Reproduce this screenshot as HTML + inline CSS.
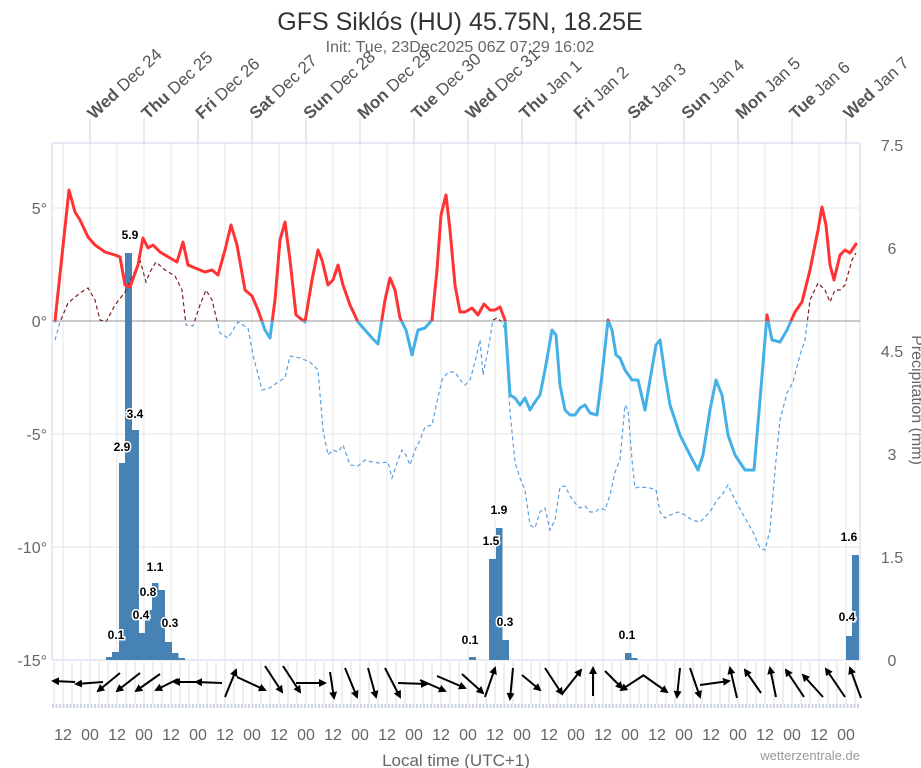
<!DOCTYPE html>
<html><head><meta charset="utf-8"><style>
html,body{margin:0;padding:0;background:#fff;}
svg{display:block;font-family:"Liberation Sans",sans-serif;}
.bl{font-size:12px;font-weight:bold;fill:#000;stroke:#fff;stroke-width:3px;paint-order:stroke;text-anchor:middle;}
.ax{font-size:16px;fill:#666;}
.top{font-size:17px;fill:#555;}
</style></head><body>
<svg width="921" height="768" viewBox="0 0 921 768">
<defs>
<clipPath id="above"><rect x="0" y="0" width="921" height="321"/></clipPath>
<clipPath id="below"><rect x="0" y="321" width="921" height="400"/></clipPath>
<marker id="ah" markerWidth="8" markerHeight="8" refX="6" refY="4" orient="auto" markerUnits="userSpaceOnUse"><path d="M0,0 L8,4 L0,8 z" fill="#000"/></marker>
<polyline id="dp" points="55,340 60,322 68,303 80,293 88,288 95,300 100,320 106,322 115,305 125,292 133,275 140,260 146,282 150,272 156,262 165,270 175,276 182,290 186,325 193,326 200,305 206,290 212,300 220,333 228,338 238,322 248,328 253,355 262,390 270,388 278,382 285,378 290,356 300,358 310,362 318,370 323,430 328,455 333,450 338,452 343,445 350,465 358,466 365,460 372,462 380,463 388,462 392,478 398,460 402,450 406,455 410,465 415,450 420,440 425,427 432,425 437,402 442,380 448,372 455,372 460,380 465,385 470,380 475,362 480,340 483,375 488,350 493,320 497,318 502,322 505,330 510,412 515,462 520,478 525,490 530,525 535,528 540,512 545,508 550,530 555,520 560,487 565,486 570,496 575,503 580,508 585,506 590,512 595,512 600,508 605,510 610,495 615,472 620,460 625,405 628,410 632,460 635,488 640,487 650,488 656,490 660,512 665,518 670,515 678,512 685,515 692,520 700,522 710,512 717,500 722,495 728,485 735,500 745,518 752,530 760,548 765,550 770,530 775,470 780,420 787,393 793,382 800,355 805,340 810,300 818,283 825,290 830,302 835,290 840,290 845,285 852,260 856,253"/>
<polyline id="tp" points="55,321 69,190 75,212 80,220 88,237 95,245 105,252 115,255 120,257 125,285 130,287 138,265 143,238 148,248 153,245 160,252 170,258 177,262 183,242 188,265 195,268 205,272 212,270 218,275 225,250 231,225 237,245 245,290 252,296 258,310 265,330 270,338 275,300 280,240 285,222 290,260 296,315 305,322 312,280 318,250 322,260 328,285 333,280 338,265 343,285 350,305 358,322 365,330 372,338 378,344 385,300 390,278 395,290 400,318 406,330 412,355 418,330 425,328 432,320 437,270 441,215 446,195 450,230 455,285 460,312 465,312 472,308 478,315 484,304 490,310 495,310 500,307 505,320 510,395 515,398 520,405 525,398 530,410 535,402 540,395 545,370 552,330 556,335 560,385 565,410 570,415 575,415 580,408 585,405 590,413 597,415 602,375 608,320 612,330 616,355 620,358 625,370 632,380 638,380 645,410 650,380 656,345 660,340 665,375 670,405 680,435 690,455 698,470 703,455 710,410 716,380 722,395 728,435 735,455 745,470 754,470 760,400 767,315 772,340 780,342 787,330 795,312 802,302 810,270 818,230 822,207 826,225 830,265 834,280 840,255 845,250 850,253 856,244"/>
</defs>
<text x="460" y="30" text-anchor="middle" font-size="25" fill="#333">GFS Siklós (HU) 45.75N, 18.25E</text>
<text x="460" y="52" text-anchor="middle" font-size="16" fill="#666">Init: Tue, 23Dec2025 06Z 07:29 16:02</text>
<g stroke="#e6e6e6" stroke-width="1">
<path d="M63,143V660M90,143V660M117,143V660M144,143V660M171,143V660M198,143V660M225,143V660M252,143V660M279,143V660M306,143V660M333,143V660M360,143V660M387,143V660M414,143V660M441,143V660M468,143V660M495,143V660M522,143V660M549,143V660M576,143V660M603,143V660M630,143V660M657,143V660M684,143V660M711,143V660M738,143V660M765,143V660M792,143V660M819,143V660M846,143V660"/>
<path d="M52,208H860M52,434H860M52,547H860"/>
</g>
<path d="M52,143H860M52,143V660M860,143V660" stroke="#ccd6eb" fill="none"/>
<path d="M52,321H860" stroke="#aaa" stroke-width="1.3"/>
<path d="M52,660H860" stroke="#ccd6eb"/>
<g stroke="#ccd6eb"><path d="M90,118V143M144,118V143M198,118V143M252,118V143M306,118V143M360,118V143M414,118V143M468,118V143M522,118V143M576,118V143M630,118V143M684,118V143M738,118V143M792,118V143M846,118V143"/></g>
<g class="top">
<text transform="translate(94,120) rotate(-43)"><tspan font-weight="bold">Wed</tspan> Dec 24</text>
<text transform="translate(148,120) rotate(-43)"><tspan font-weight="bold">Thu</tspan> Dec 25</text>
<text transform="translate(202,120) rotate(-43)"><tspan font-weight="bold">Fri</tspan> Dec 26</text>
<text transform="translate(256,120) rotate(-43)"><tspan font-weight="bold">Sat</tspan> Dec 27</text>
<text transform="translate(310,120) rotate(-43)"><tspan font-weight="bold">Sun</tspan> Dec 28</text>
<text transform="translate(364,120) rotate(-43)"><tspan font-weight="bold">Mon</tspan> Dec 29</text>
<text transform="translate(418,120) rotate(-43)"><tspan font-weight="bold">Tue</tspan> Dec 30</text>
<text transform="translate(472,120) rotate(-43)"><tspan font-weight="bold">Wed</tspan> Dec 31</text>
<text transform="translate(526,120) rotate(-43)"><tspan font-weight="bold">Thu</tspan> Jan 1</text>
<text transform="translate(580,120) rotate(-43)"><tspan font-weight="bold">Fri</tspan> Jan 2</text>
<text transform="translate(634,120) rotate(-43)"><tspan font-weight="bold">Sat</tspan> Jan 3</text>
<text transform="translate(688,120) rotate(-43)"><tspan font-weight="bold">Sun</tspan> Jan 4</text>
<text transform="translate(742,120) rotate(-43)"><tspan font-weight="bold">Mon</tspan> Jan 5</text>
<text transform="translate(796,120) rotate(-43)"><tspan font-weight="bold">Tue</tspan> Jan 6</text>
<text transform="translate(850,120) rotate(-43)"><tspan font-weight="bold">Wed</tspan> Jan 7</text>
</g>
<g class="ax" text-anchor="end">
<text x="47" y="214">5°</text><text x="47" y="327">0°</text><text x="47" y="440">-5°</text><text x="47" y="553">-10°</text><text x="47" y="666">-15°</text>
</g>
<g class="ax" text-anchor="middle">
<text x="892" y="151">7.5</text><text x="892" y="254">6</text><text x="892" y="357">4.5</text><text x="892" y="460">3</text><text x="892" y="563">1.5</text><text x="892" y="666">0</text>
</g>
<text transform="translate(912,400) rotate(90)" text-anchor="middle" font-size="16" fill="#666">Precipitation (mm)</text>
<g fill="#4682b4">
<rect x="106" y="657" width="7" height="3"/><rect x="112" y="652" width="7" height="8"/>
<rect x="119" y="463" width="7" height="197"/><rect x="125" y="253" width="7" height="407"/>
<rect x="132" y="430" width="7" height="230"/><rect x="139" y="633" width="6.5" height="27"/>
<rect x="145" y="610" width="7" height="50"/><rect x="152" y="583" width="6.5" height="77"/>
<rect x="158" y="590" width="7" height="70"/><rect x="165" y="642" width="7" height="18"/>
<rect x="172" y="653" width="6.5" height="7"/><rect x="178" y="658" width="7" height="2"/>
<rect x="469" y="657" width="7" height="3"/>
<rect x="489" y="559" width="7" height="101"/><rect x="496" y="528" width="6.5" height="132"/><rect x="502" y="640" width="7" height="20"/>
<rect x="625" y="653" width="6.5" height="7"/><rect x="631" y="658" width="6.5" height="2"/>
<rect x="846" y="636" width="6.5" height="24"/><rect x="852" y="555" width="7" height="105"/>
</g>
<g fill="none" stroke-width="1.2" stroke-dasharray="4,3">
<use href="#dp" clip-path="url(#above)" stroke="#7a2020"/>
<use href="#dp" clip-path="url(#below)" stroke="#5a9fe0"/>
</g>
<g fill="none" stroke-width="3" stroke-linejoin="round" stroke-linecap="round">
<use href="#tp" clip-path="url(#above)" stroke="#ff3333"/>
<use href="#tp" clip-path="url(#below)" stroke="#45b0e6"/>
</g>
<g class="bl">
<text x="130" y="239">5.9</text><text x="135" y="418">3.4</text><text x="122" y="451">2.9</text>
<text x="155" y="571">1.1</text><text x="148" y="596">0.8</text><text x="141" y="619">0.4</text>
<text x="170" y="627">0.3</text><text x="116" y="639">0.1</text>
<text x="499" y="514">1.9</text><text x="491" y="545">1.5</text><text x="505" y="626">0.3</text><text x="470" y="644">0.1</text>
<text x="627" y="639">0.1</text><text x="847" y="621">0.4</text><text x="849" y="541">1.6</text>
</g>
<g stroke="#dcdcdc" stroke-width="1">
<path d="M54,662V704M63,662V704M72,662V704M81,662V704M90,662V704M99,662V704M108,662V704M117,662V704M126,662V704M135,662V704M144,662V704M153,662V704M162,662V704M171,662V704M180,662V704M189,662V704M198,662V704M207,662V704M216,662V704M225,662V704M234,662V704M243,662V704M252,662V704M261,662V704M270,662V704M279,662V704M288,662V704M297,662V704M306,662V704M315,662V704M324,662V704M333,662V704M342,662V704M351,662V704M360,662V704M369,662V704M378,662V704M387,662V704M396,662V704M405,662V704M414,662V704M423,662V704M432,662V704M441,662V704M450,662V704M459,662V704M468,662V704M477,662V704M486,662V704M495,662V704M504,662V704M513,662V704M522,662V704M531,662V704M540,662V704M549,662V704M558,662V704M567,662V704M576,662V704M585,662V704M594,662V704M603,662V704M612,662V704M621,662V704M630,662V704M639,662V704M648,662V704M657,662V704M666,662V704M675,662V704M684,662V704M693,662V704M702,662V704M711,662V704M720,662V704M729,662V704M738,662V704M747,662V704M756,662V704M765,662V704M774,662V704M783,662V704M792,662V704M801,662V704M810,662V704M819,662V704M828,662V704M837,662V704M846,662V704M855,662V704"/>
</g>
<path d="M52,706H860" stroke="#ccd3e0" stroke-width="4" stroke-dasharray="2,1.5"/>
<g stroke="#000" stroke-width="2" fill="none" marker-end="url(#ah)">
<line x1="75" y1="682" x2="53" y2="681"/><line x1="103" y1="682" x2="76" y2="684"/>
<line x1="120" y1="673" x2="98" y2="691"/><line x1="140" y1="673" x2="117" y2="691"/>
<line x1="160" y1="674" x2="136" y2="691"/><line x1="178" y1="679" x2="156" y2="690"/>
<line x1="200" y1="682" x2="174" y2="682"/><line x1="222" y1="683" x2="196" y2="682"/>
<line x1="225" y1="697" x2="236" y2="670"/><line x1="237" y1="677" x2="265" y2="690"/>
<line x1="265" y1="666" x2="282" y2="692"/><line x1="283" y1="666" x2="300" y2="692"/>
<line x1="296" y1="683" x2="325" y2="683"/><line x1="330" y1="672" x2="334" y2="698"/>
<line x1="345" y1="668" x2="357" y2="697"/><line x1="368" y1="668" x2="376" y2="697"/>
<line x1="385" y1="668" x2="400" y2="697"/><line x1="398" y1="683" x2="427" y2="684"/>
<line x1="420" y1="680" x2="445" y2="691"/><line x1="437" y1="676" x2="465" y2="688"/>
<line x1="462" y1="674" x2="483" y2="693"/><line x1="485" y1="697" x2="495" y2="668"/>
<line x1="513" y1="668" x2="510" y2="699"/><line x1="522" y1="675" x2="540" y2="690"/>
<line x1="545" y1="668" x2="562" y2="694"/><line x1="562" y1="694" x2="581" y2="670"/>
<line x1="593" y1="696" x2="593" y2="668"/><line x1="605" y1="671" x2="622" y2="688"/>
<line x1="644" y1="675" x2="621" y2="690"/><line x1="643" y1="675" x2="667" y2="692"/>
<line x1="680" y1="668" x2="677" y2="697"/><line x1="690" y1="668" x2="700" y2="697"/>
<line x1="700" y1="685" x2="729" y2="681"/><line x1="737" y1="698" x2="730" y2="668"/>
<line x1="761" y1="693" x2="745" y2="670"/><line x1="776" y1="697" x2="770" y2="668"/>
<line x1="804" y1="697" x2="786" y2="670"/><line x1="823" y1="697" x2="803" y2="675"/>
<line x1="845" y1="697" x2="826" y2="669"/><line x1="861" y1="698" x2="850" y2="668"/>
</g>
<g class="ax" text-anchor="middle" font-size="17">
<text x="63" y="740">12</text><text x="90" y="740">00</text><text x="117" y="740">12</text><text x="144" y="740">00</text><text x="171" y="740">12</text><text x="198" y="740">00</text><text x="225" y="740">12</text><text x="252" y="740">00</text><text x="279" y="740">12</text><text x="306" y="740">00</text><text x="333" y="740">12</text><text x="360" y="740">00</text><text x="387" y="740">12</text><text x="414" y="740">00</text><text x="441" y="740">12</text><text x="468" y="740">00</text><text x="495" y="740">12</text><text x="522" y="740">00</text><text x="549" y="740">12</text><text x="576" y="740">00</text><text x="603" y="740">12</text><text x="630" y="740">00</text><text x="657" y="740">12</text><text x="684" y="740">00</text><text x="711" y="740">12</text><text x="738" y="740">00</text><text x="765" y="740">12</text><text x="792" y="740">00</text><text x="819" y="740">12</text><text x="846" y="740">00</text>
</g>
<text x="456" y="766" text-anchor="middle" font-size="17" fill="#666">Local time (UTC+1)</text>
<text x="860" y="760" text-anchor="end" font-size="13" fill="#999">wetterzentrale.de</text>
</svg>
</body></html>
